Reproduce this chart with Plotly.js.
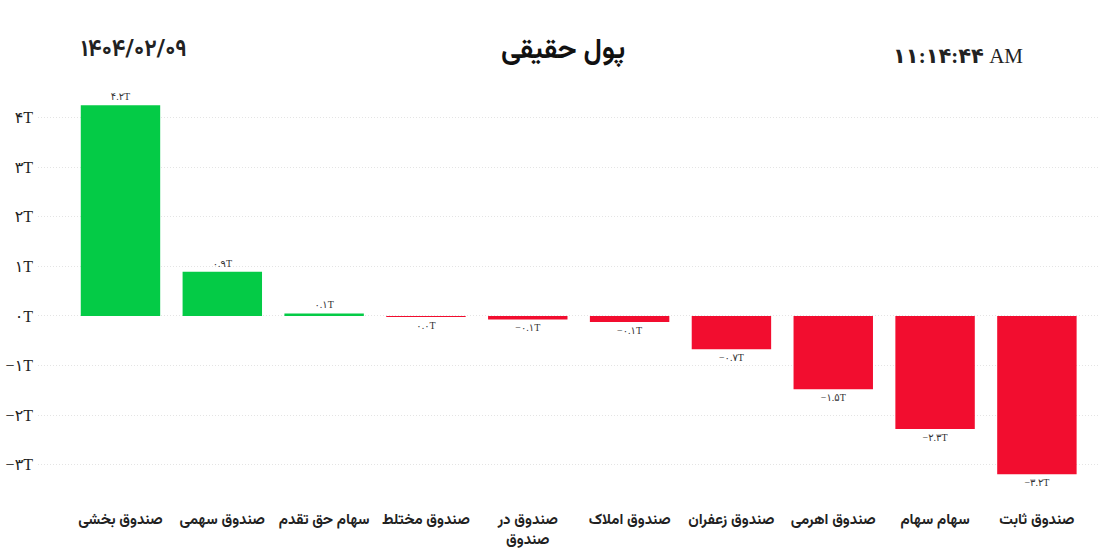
<!DOCTYPE html>
<html>
<head>
<meta charset="utf-8">
<script src="https://cdn.plot.ly/plotly-3.0.1.min.js"></script>
<style>html,body{margin:0;padding:0;background:#fff;}#chart{width:1107px;height:554px;}</style>
</head>
<body>
<div id="chart"></div>
<script>
const categories = ["صندوق بخشی","صندوق سهمی","سهام حق تقدم","صندوق مختلط","صندوق در<br>صندوق","صندوق املاک","صندوق زعفران","صندوق اهرمی","سهام سهام","صندوق ثابت"];
const values = [4.25, 0.89, 0.05, -0.02, -0.07, -0.12, -0.67, -1.48, -2.28, -3.19];
const valueLabels = ["۴.۲T","۰.۹T","۰.۱T","۰.۰T","−۰.۱T","−۰.۱T","−۰.۷T","−۱.۵T","−۲.۳T","−۳.۲T"];
const yTickVals = [-3,-2,-1,0,1,2,3,4];
const yTickText = ["−۳T","−۲T","−۱T","۰T","۱T","۲T","۳T","۴T"];
const titleText = "پول حقیقی";
const dateText = "۱۴۰۴/۰۲/۰۹";
const timeDigits = "۱۱:۱۴:۴۴";
const timeSuffix = "AM";

const green = "#04cb46", red = "#f20d2f";
const colors = values.map(v => v >= 0 ? green : red);
const arabicFont = "Vazirmatn, 'DejaVu Sans', sans-serif";
const serifFont = "'Liberation Serif', 'DejaVu Sans', serif";

const trace = {
  type: "bar",
  x: categories,
  y: values,
  marker: {color: colors},
  text: valueLabels,
  textposition: "outside",
  cliponaxis: false,
  textfont: {family: serifFont, size: 10, color: "#333"},
  hoverinfo: "none"
};

const layout = {
  width: 1107, height: 554,
  paper_bgcolor: "#fff", plot_bgcolor: "#fff",
  margin: {l: 38, r: 9, t: 95, b: 64},
  bargap: 0.22,
  showlegend: false,
  xaxis: {
    type: "category",
    range: [-0.81, 9.6],
    showgrid: false, zeroline: false, showline: false,
    ticks: "", ticklabelstandoff: 18,
    tickfont: {family: arabicFont, size: 15, color: "#222", weight: "bold"},
    automargin: false
  },
  yaxis: {
    range: [-3.51, 4.456],
    tickvals: yTickVals,
    ticktext: yTickText,
    showgrid: true, gridcolor: "#e4e4e4", griddash: "1px,2px", gridwidth: 1,
    zeroline: false, showline: false,
    ticks: "", ticklabelstandoff: 4,
    tickfont: {family: serifFont, size: 16, color: "#222"},
    automargin: false
  },
  annotations: [
    {text: "<b>" + titleText + "</b>", xref: "paper", yref: "paper", x: 0.495, y: 1, yshift: 20,
     xanchor: "center", yanchor: "bottom", showarrow: false, font: {family: arabicFont, size: 28, color: "#111"}},
    {text: "<b>" + dateText + "</b>", xref: "paper", yref: "paper", x: 0, xshift: 41, y: 1, yshift: 25,
     xanchor: "left", yanchor: "bottom", showarrow: false, font: {family: arabicFont, size: 23, color: "#222"}},
    {text: "<b>" + timeDigits + "</b> " + timeSuffix, xref: "paper", yref: "paper", x: 1, xshift: -73, y: 1, yshift: 25,
     xanchor: "right", yanchor: "bottom", showarrow: false, font: {family: serifFont, size: 21, color: "#222"}}
  ]
};

Plotly.newPlot("chart", [trace], layout, {displayModeBar: false, staticPlot: true});
</script>
</body>
</html>
